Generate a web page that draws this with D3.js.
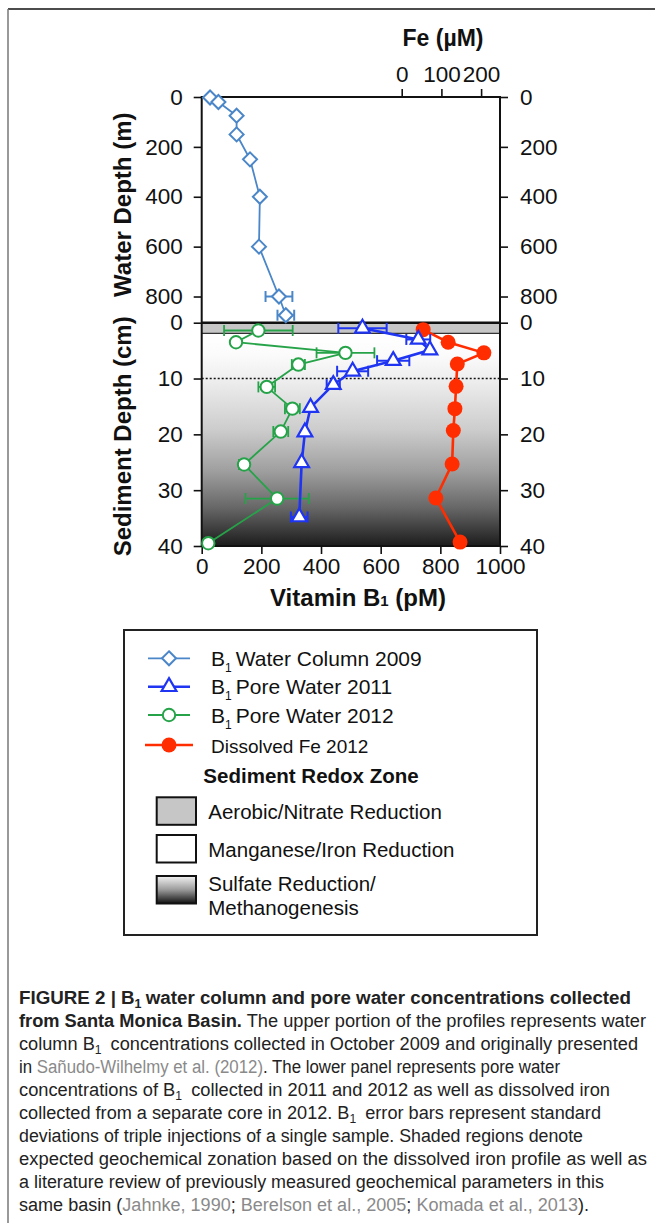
<!DOCTYPE html>
<html>
<head>
<meta charset="utf-8">
<script src="https://cdn.jsdelivr.net/npm/d3@7"></script>
<style>
  body { margin: 0; background: #fff; }
  svg { display: block; font-family: "Liberation Sans", Arial, Helvetica, sans-serif; }
</style>
</head>
<body>
<svg width="655" height="1223"></svg>
<script>
// water column B1, 2009 (depth in m, B1 in pM)
const wcDepth = [2, 20, 75, 150, 250, 400, 600, 800, 875];
const wcB1    = [28, 56, 117, 117, 162, 195, 192, 259, 282];
const wcErr   = [0, 0, 0, 0, 0, 0, 0, 45, 28];

// pore water B1, 2011 (depth in cm)
const pw11Depth = [1.0, 3.0, 4.9, 6.8, 8.7, 11.1, 15.2, 19.6, 25.1, 34.8];
const pw11B1    = [539, 726, 765, 642, 506, 441, 365, 346, 335, 327];
const pw11Err   = [81, 40, 0, 54, 52, 22, 0, 0, 0, 28];

// pore water B1, 2012
const pw12Depth = [1.4, 3.5, 5.4, 7.5, 11.5, 15.4, 19.5, 25.4, 31.5, 39.5];
const pw12B1    = [190, 115, 482, 324, 218, 304, 265, 142, 253, 22];
const pw12Err   = [115, 0, 97, 22, 28, 25, 25, 17, 106, 0];

// dissolved Fe 2012 (uM)
const feDepth = [1.25, 3.5, 5.4, 7.4, 11.4, 15.4, 19.3, 25.3, 31.4, 39.3];
const feConc  = [54, 117, 207, 140, 137, 134, 130, 127, 86, 147];

const b1Ticks = [0, 200, 400, 600, 800, 1000];
const feTicks = [0, 100, 200];
const wdTicks = [0, 200, 400, 600, 800];
const sdTicks = [0, 10, 20, 30, 40];
const redoxDepths = [0, 1.9, 10, 40]; // aerobic top, aerobic bottom, dotted line, core bottom

const svg = d3.select("svg");

const x   = d3.scaleLinear().domain([0, 1000]).range([201.7, 500]);
const xFe = d3.scaleLinear().domain([0, 247.6]).range([401.7, 500]);
const yW  = d3.scaleLinear().domain([0, 905]).range([97, 322.7]);
const yS  = d3.scaleLinear().domain([0, 40]).range([322.7, 546]);

const cBlueLight = "#4a86c8", cBlue = "#1f35f2", cGreen = "#26a349", cRed = "#ff2d00";

// page frame
svg.append("line").attr("x1", 8).attr("x2", 655).attr("y1", 9).attr("y2", 9)
  .attr("stroke", "#111").attr("stroke-width", 1.5);
svg.append("line").attr("x1", 8).attr("x2", 8).attr("y1", 9).attr("y2", 1223)
  .attr("stroke", "#777").attr("stroke-width", 1.5);

// gradients
const defs = svg.append("defs");
const sed = defs.append("linearGradient").attr("id", "sed")
  .attr("x1", 0).attr("y1", 0).attr("x2", 0).attr("y2", 1);
[[0, "#ffffff"], [0.1, "#fbfbfb"], [0.22, "#eeeeee"], [0.45, "#cdcdcd"],
 [0.65, "#9e9e9e"], [0.82, "#676767"], [1, "#1c1c1c"]]
  .forEach(s => sed.append("stop").attr("offset", s[0]).attr("stop-color", s[1]));
const leg = defs.append("linearGradient").attr("id", "leg")
  .attr("x1", 0).attr("y1", 0).attr("x2", 0).attr("y2", 1);
[[0, "#f4f4f4"], [0.5, "#9a9a9a"], [1, "#111"]]
  .forEach(s => leg.append("stop").attr("offset", s[0]).attr("stop-color", s[1]));

// sediment zones
svg.append("rect")
  .attr("x", x(0)).attr("width", x(1000) - x(0))
  .attr("y", yS(redoxDepths[1])).attr("height", yS(redoxDepths[3]) - yS(redoxDepths[1]))
  .attr("fill", "url(#sed)");
svg.append("rect")
  .attr("x", x(0)).attr("width", x(1000) - x(0))
  .attr("y", yS(redoxDepths[0])).attr("height", yS(redoxDepths[1]) - yS(redoxDepths[0]))
  .attr("fill", "#c6c6c6");
svg.append("line").attr("x1", x(0)).attr("x2", x(1000))
  .attr("y1", yS(redoxDepths[1])).attr("y2", yS(redoxDepths[1]))
  .attr("stroke", "#333").attr("stroke-width", 1.3);
svg.append("line").attr("x1", x(0)).attr("x2", x(1000))
  .attr("y1", yS(redoxDepths[2])).attr("y2", yS(redoxDepths[2]))
  .attr("stroke", "#111").attr("stroke-width", 1.6).attr("stroke-dasharray", "2,2");

// axes
function styleAxis(g) {
  g.attr("font-family", null).attr("font-size", null);
  g.select(".domain").remove();
  g.selectAll(".tick line").attr("stroke", "#111").attr("stroke-width", 1.6);
  g.selectAll(".tick text").attr("font-size", 22.5).attr("fill", "#111");
}
const fmt = d3.format("d");
svg.append("g").attr("transform", `translate(${x(0)},0)`)
  .call(d3.axisLeft(yW).tickValues(wdTicks).tickFormat(fmt).tickSize(8).tickPadding(11)).call(styleAxis);
svg.append("g").attr("transform", `translate(${x(0)},0)`)
  .call(d3.axisLeft(yS).tickValues(sdTicks).tickFormat(fmt).tickSize(8).tickPadding(11)).call(styleAxis);
svg.append("g").attr("transform", `translate(${x(1000)},0)`)
  .call(d3.axisRight(yW).tickValues(wdTicks).tickFormat(fmt).tickSize(8).tickPadding(12)).call(styleAxis);
svg.append("g").attr("transform", `translate(${x(1000)},0)`)
  .call(d3.axisRight(yS).tickValues(sdTicks).tickFormat(fmt).tickSize(8).tickPadding(12)).call(styleAxis);
svg.append("g").attr("transform", `translate(0,${yS(40)})`)
  .call(d3.axisBottom(x).tickValues(b1Ticks).tickFormat(fmt).tickSize(8).tickPadding(4)).call(styleAxis);
svg.append("g").attr("transform", `translate(0,${yW(0)})`)
  .call(d3.axisTop(xFe).tickValues(feTicks).tickFormat(fmt).tickSize(8).tickPadding(7)).call(styleAxis);

// plot frame
svg.append("rect").attr("x", x(0)).attr("y", yW(0))
  .attr("width", x(1000) - x(0)).attr("height", yS(40) - yW(0))
  .attr("fill", "none").attr("stroke", "#111").attr("stroke-width", 2);
svg.append("line").attr("x1", x(0)).attr("x2", x(1000))
  .attr("y1", yS(0)).attr("y2", yS(0)).attr("stroke", "#111").attr("stroke-width", 2.6);

// axis titles
svg.append("text").attr("x", 443).attr("y", 46).attr("text-anchor", "middle")
  .attr("font-size", 23).attr("font-weight", "bold").attr("fill", "#111").text("Fe (µM)");
const vt = svg.append("text").attr("x", 358).attr("y", 606).attr("text-anchor", "middle")
  .attr("font-size", 24).attr("font-weight", "bold").attr("fill", "#111");
vt.append("tspan").text("Vitamin B");
vt.append("tspan").attr("font-size", 15).text("1");
vt.append("tspan").text(" (pM)");
svg.append("text").attr("transform", `translate(131,${(yW(0) + yW(800)) / 2 + 8}) rotate(-90)`)
  .attr("text-anchor", "middle").attr("font-size", 24).attr("font-weight", "bold")
  .attr("fill", "#111").text("Water Depth (m)");
svg.append("text").attr("transform", `translate(131,${(yS(0) + yS(40)) / 2 + 2}) rotate(-90)`)
  .attr("text-anchor", "middle").attr("font-size", 24).attr("font-weight", "bold")
  .attr("fill", "#111").text("Sediment Depth (cm)");

// series
const diamond = "M0,-7L7,0L0,7L-7,0Z";
const tri = d3.symbol(d3.symbolTriangle, 95)();

function errorBars(rows, y, color, w) {
  const g = svg.append("g").attr("stroke", color).attr("stroke-width", w).attr("fill", "none");
  rows.filter(d => d.e > 0).forEach(d => {
    const yy = y(d.d), x0 = x(d.v - d.e), x1 = x(d.v + d.e);
    g.append("line").attr("x1", x0).attr("x2", x1).attr("y1", yy).attr("y2", yy);
    g.append("line").attr("x1", x0).attr("x2", x0).attr("y1", yy - 5.5).attr("y2", yy + 5.5);
    g.append("line").attr("x1", x1).attr("x2", x1).attr("y1", yy - 5.5).attr("y2", yy + 5.5);
  });
}
function pathLine(rows, xs, y, color, w) {
  svg.append("path").datum(rows)
    .attr("d", d3.line().x(d => xs(d.v)).y(d => y(d.d)))
    .attr("fill", "none").attr("stroke", color).attr("stroke-width", w);
}

const feRows = feDepth.map((d, i) => ({ d, v: feConc[i] }));
const pw12Rows = pw12Depth.map((d, i) => ({ d, v: pw12B1[i], e: pw12Err[i] }));
const pw11Rows = pw11Depth.map((d, i) => ({ d, v: pw11B1[i], e: pw11Err[i] }));
const wcRows = wcDepth.map((d, i) => ({ d, v: wcB1[i], e: wcErr[i] }));

// Fe
pathLine(feRows, xFe, yS, cRed, 2.6);
svg.append("g").selectAll("circle").data(feRows).enter().append("circle")
  .attr("cx", d => xFe(d.v)).attr("cy", d => yS(d.d)).attr("r", 7.5).attr("fill", cRed);

// pore water 2012
errorBars(pw12Rows, yS, cGreen, 1.8);
pathLine(pw12Rows, x, yS, cGreen, 1.8);
svg.append("g").selectAll("circle").data(pw12Rows).enter().append("circle")
  .attr("cx", d => x(d.v)).attr("cy", d => yS(d.d)).attr("r", 6.2)
  .attr("fill", "#fff").attr("stroke", cGreen).attr("stroke-width", 2);

// pore water 2011
errorBars(pw11Rows, yS, cBlue, 2);
pathLine(pw11Rows, x, yS, cBlue, 2.6);
svg.append("g").selectAll("path").data(pw11Rows).enter().append("path")
  .attr("d", tri).attr("transform", d => `translate(${x(d.v)},${yS(d.d)})`)
  .attr("fill", "#fff").attr("stroke", cBlue).attr("stroke-width", 2.2);

// water column 2009
errorBars(wcRows, yW, cBlueLight, 2);
pathLine(wcRows, x, yW, cBlueLight, 1.8);
svg.append("g").selectAll("path").data(wcRows).enter().append("path")
  .attr("d", diamond).attr("transform", d => `translate(${x(d.v)},${yW(d.d)})`)
  .attr("fill", "#fff").attr("stroke", cBlueLight).attr("stroke-width", 2);

// legend
const seriesLabels = ["Water Column 2009", "Pore Water 2011", "Pore Water 2012", "Dissolved Fe 2012"];
const zoneLabels = [["Aerobic/Nitrate Reduction"], ["Manganese/Iron Reduction"], ["Sulfate Reduction/", "Methanogenesis"]];

const lg = svg.append("g");
lg.append("rect").attr("x", 124).attr("y", 630).attr("width", 413).attr("height", 305)
  .attr("fill", "#fff").attr("stroke", "#222").attr("stroke-width", 2);

const rowY = [658.3, 686.7, 715, 745];
const legStyle = [
  { c: cBlueLight, m: "diamond" }, { c: cBlue, m: "tri" },
  { c: cGreen, m: "open" }, { c: cRed, m: "dot" }
];
seriesLabels.forEach((lab, i) => {
  const y = rowY[i], st = legStyle[i];
  const half = st.m === "dot" ? 24 : 21;
  lg.append("line").attr("x1", 169 - half).attr("x2", 169 + half).attr("y1", y).attr("y2", y)
    .attr("stroke", st.c).attr("stroke-width", st.m === "tri" || st.m === "dot" ? 2.4 : 1.8);
  if (st.m === "diamond") lg.append("path").attr("d", diamond).attr("transform", `translate(169,${y})`)
    .attr("fill", "#fff").attr("stroke", st.c).attr("stroke-width", 2);
  if (st.m === "tri") lg.append("path").attr("d", tri).attr("transform", `translate(169,${y})`)
    .attr("fill", "#fff").attr("stroke", st.c).attr("stroke-width", 2.2);
  if (st.m === "open") lg.append("circle").attr("cx", 169).attr("cy", y).attr("r", 6.2)
    .attr("fill", "#fff").attr("stroke", st.c).attr("stroke-width", 2);
  if (st.m === "dot") lg.append("circle").attr("cx", 169).attr("cy", y).attr("r", 7.5).attr("fill", st.c);

  const t = lg.append("text").attr("x", 211).attr("y", y + 7.5).attr("fill", "#111");
  if (i < 3) {
    t.attr("font-size", 21);
    t.append("tspan").text("B");
    t.append("tspan").attr("font-size", 12).attr("dy", 6).text("1");
    t.append("tspan").attr("dy", -6).attr("dx", 4).text(lab);
  } else {
    t.attr("font-size", 19).text(lab);
  }
});

lg.append("text").attr("x", 311).attr("y", 782.7).attr("text-anchor", "middle")
  .attr("font-size", 20.5).attr("font-weight", "bold").attr("fill", "#111").text("Sediment Redox Zone");

const boxY = [797.3, 835, 876];
const boxFill = ["#c6c6c6", "#fff", "url(#leg)"];
zoneLabels.forEach((lines, i) => {
  lg.append("rect").attr("x", 156.7).attr("y", boxY[i]).attr("width", 39.3).attr("height", 27.5)
    .attr("fill", boxFill[i]).attr("stroke", "#111").attr("stroke-width", 2);
  lines.forEach((ln, j) => {
    lg.append("text").attr("x", 208.3).attr("y", boxY[i] + 22 + j * 24 - (lines.length > 1 ? 7 : 0))
      .attr("font-size", 20.5).attr("fill", "#111").text(ln);
  });
});

// caption
const captionLines = [
  [["FIGURE 2 | B", "b"], ["1", "bs"], ["water column and pore water concentrations collected", "b"]],
  [["from Santa Monica Basin.", "b"], [" The upper portion of the profiles represents water", "n"]],
  [["column B", "n"], ["1", "s"], [" concentrations collected in October 2009 and originally presented", "n"]],
  [["in ", "n"], ["Sañudo-Wilhelmy et al. (2012)", "g"], [". The lower panel represents pore water", "n"]],
  [["concentrations of B", "n"], ["1", "s"], [" collected in 2011 and 2012 as well as dissolved iron", "n"]],
  [["collected from a separate core in 2012. B", "n"], ["1", "s"], [" error bars represent standard", "n"]],
  [["deviations of triple injections of a single sample. Shaded regions denote", "n"]],
  [["expected geochemical zonation based on the dissolved iron profile as well as", "n"]],
  [["a literature review of previously measured geochemical parameters in this", "n"]],
  [["same basin (", "n"], ["Jahnke, 1990", "g"], ["; ", "n"], ["Berelson et al., 2005", "g"],
   ["; ", "n"], ["Komada et al., 2013", "g"], [").", "n"]]
];
const captionRight = [631, 646, 638, 560, 610, 601, 583, 647, 604, 589];

captionLines.forEach((segs, i) => {
  const t = svg.append("text").attr("x", 19).attr("y", 1004 + i * 23)
    .attr("font-size", 18).attr("fill", "#222")
    .attr("textLength", captionRight[i] - 19).attr("lengthAdjust", "spacingAndGlyphs");
  let sub = false;
  segs.forEach(([txt, st]) => {
    const s = t.append("tspan").text(txt);
    if (st.includes("b")) s.attr("font-weight", "bold");
    if (st === "g") s.attr("fill", "#8a8a8a");
    if (st.includes("s")) { s.attr("font-size", 12).attr("dy", 3.5); sub = true; }
    else if (sub) { s.attr("dy", -3.5).attr("dx", 4); sub = false; }
  });
});
</script>
</body>
</html>
